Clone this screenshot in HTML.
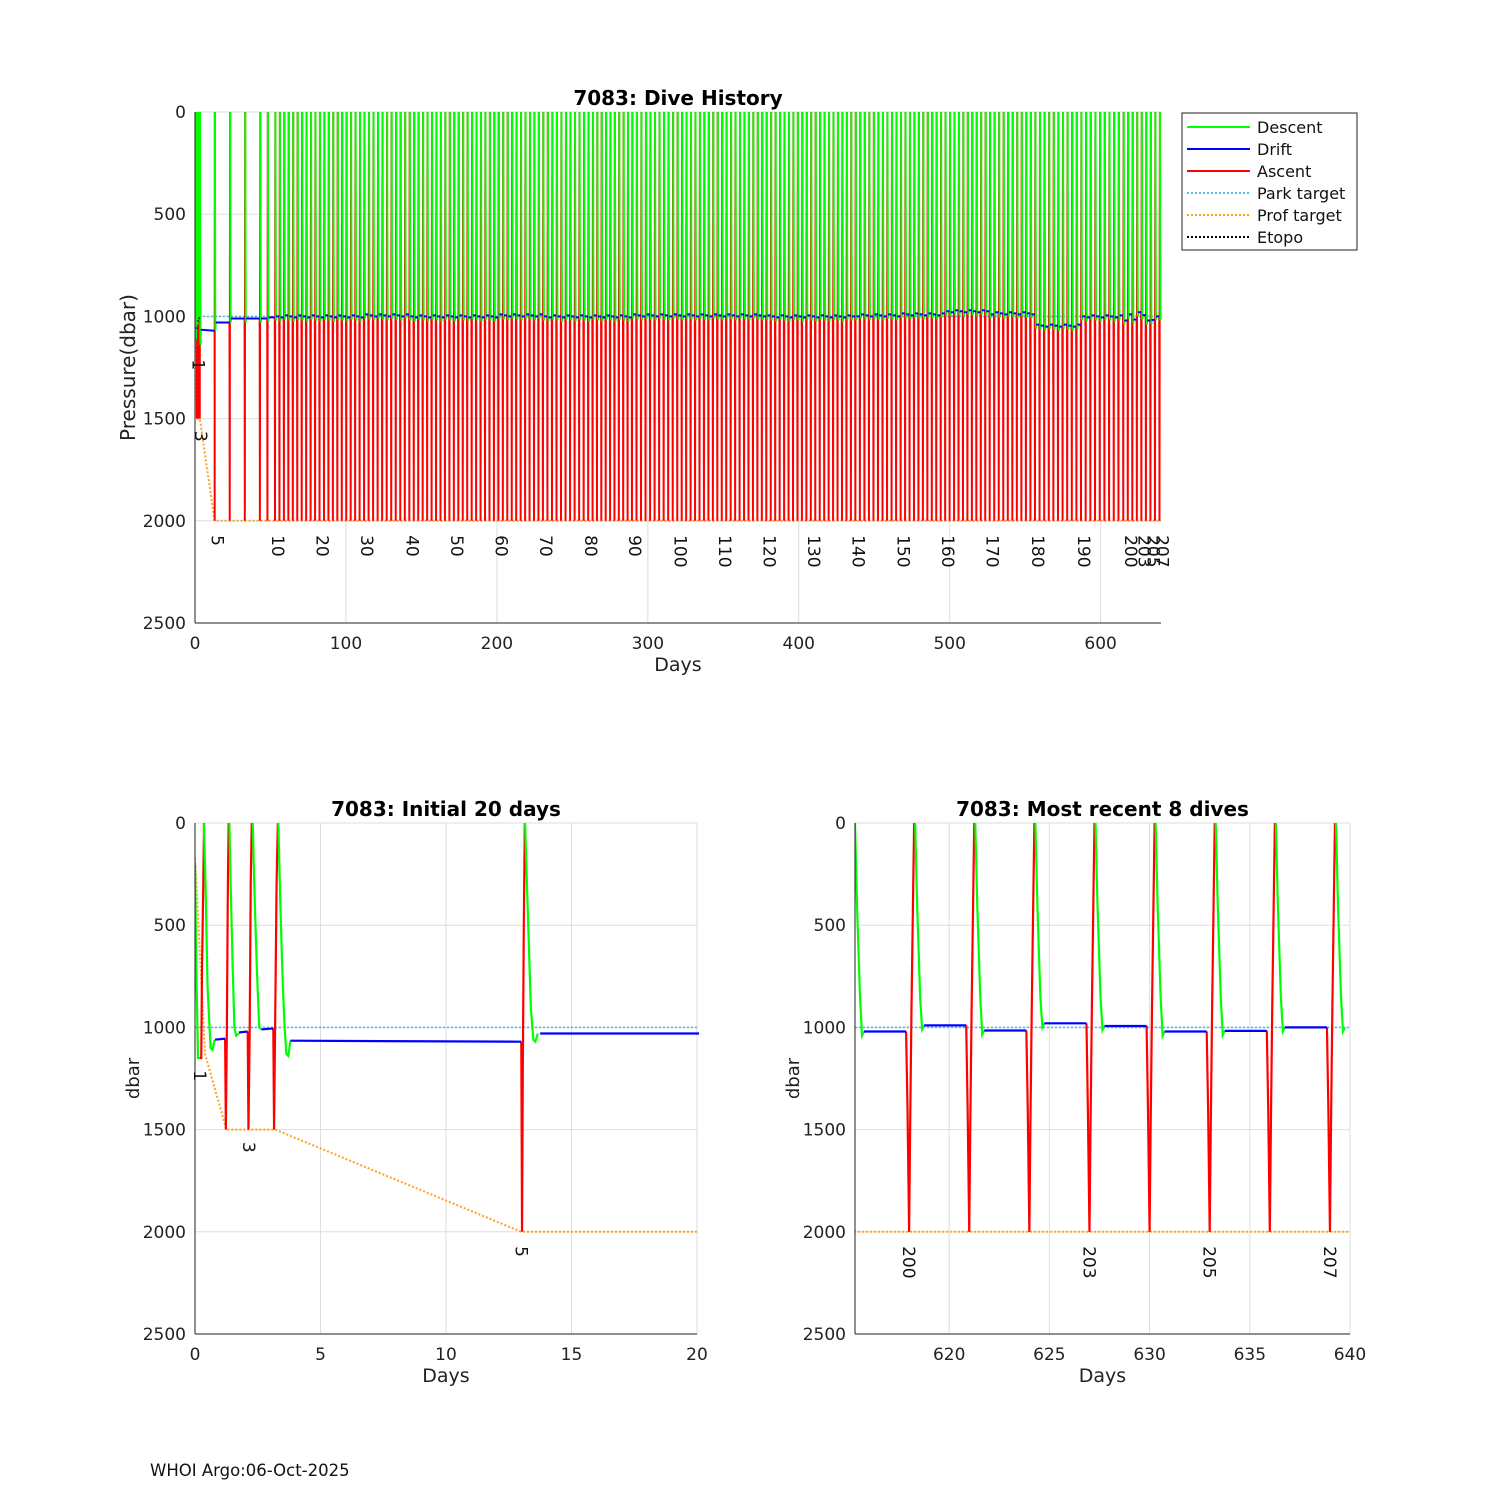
<!DOCTYPE html>
<html><head><meta charset="utf-8"><style>
html,body{margin:0;padding:0;background:#fff}
svg{display:block;font-family:"DejaVu Sans","Liberation Sans",sans-serif}
</style></head><body>
<svg id="svg" width="1500" height="1500" viewBox="0 0 1500 1500" xmlns="http://www.w3.org/2000/svg">
<rect width="1500" height="1500" fill="#fff"/>
<text x="150" y="1476" font-size="16.5" fill="#111">WHOI Argo:06-Oct-2025</text>
<g>
<rect x="1182" y="113" width="175" height="137" fill="#fff" stroke="#222" stroke-width="1"/>
<line x1="1187" y1="127" x2="1250" y2="127" stroke="#00ff00" stroke-width="2"/><text x="1257" y="133" font-size="16" fill="#111">Descent</text>
<line x1="1187" y1="149" x2="1250" y2="149" stroke="#0000ff" stroke-width="2"/><text x="1257" y="155" font-size="16" fill="#111">Drift</text>
<line x1="1187" y1="171" x2="1250" y2="171" stroke="#ff0000" stroke-width="2"/><text x="1257" y="177" font-size="16" fill="#111">Ascent</text>
<line x1="1187" y1="193" x2="1250" y2="193" stroke="#4dbeee" stroke-width="2" stroke-dasharray="2,2"/><text x="1257" y="199" font-size="16" fill="#111">Park target</text>
<line x1="1187" y1="215" x2="1250" y2="215" stroke="#ffa020" stroke-width="2" stroke-dasharray="2,2"/><text x="1257" y="221" font-size="16" fill="#111">Prof target</text>
<line x1="1187" y1="237" x2="1250" y2="237" stroke="#000" stroke-width="2" stroke-dasharray="2,2"/><text x="1257" y="243" font-size="16" fill="#111">Etopo</text>
</g>
</svg>
<script>
// ---- data ----
const decadeDives=[10,20,30,40,50,60,70,80,90,100,110,120,130,140,150,160,170,180,190,200];
const decadeDays=[53,82.5,112,142,171.5,201,230.5,260.5,289.5,319.5,349,378.5,408,437.5,467.5,497,526.5,556.5,587,618];
const earlyDives=[5,6,7,8,9];
const earlyDays=[13,23,33,43,48];
const recentDives=[199,200,201,202,203,204,205,206,207];
const recentDays=[615,618,621,624,627,630,633,636,639];
const earlyDrift=[1030,1010,1010,1010,1005];
const decadeDrift=[1000,1000,995,1000,1000,995,1000,1000,995,995,995,1000,1000,995,990,975,985,1045,1000,995];
const recentDrift=[1020,990,1015,980,993,1020,1017,1000,1000];
const labelDives=[1,3,5,10,20,30,40,50,60,70,80,90,100,110,120,130,140,150,160,170,180,190,200,203,205,207];
// first test dives (explicit traces)
const initDescT=[0,0.05,0.12,0.2,NaN,0.35,0.42,0.5,0.62,0.7,0.78,NaN,1.37,1.42,1.5,1.57,1.64,1.75,NaN,2.3,2.36,2.46,2.56,2.65,NaN,3.32,3.4,3.5,3.57,3.64,3.72,3.8,NaN,13.15,13.25,13.38,13.48,13.56,13.66];
const initDescP=[200,700,1150,1150,NaN,0,300,800,1100,1110,1060,NaN,0,300,700,1000,1040,1030,NaN,0,300,700,1000,1010,NaN,0,400,800,1000,1130,1140,1065,NaN,0,400,900,1060,1070,1030];
const initDriftT=[0.8,1.2,NaN,1.75,2.1,NaN,2.65,3.12,NaN,3.8,13.0];
const initDriftP=[1060,1055,NaN,1025,1020,NaN,1010,1005,NaN,1065,1070];
const initAscT=[0.18,0.25,0.28,0.33,0.36,NaN,1.2,1.23,1.27,1.31,1.34,NaN,2.1,2.13,2.18,2.22,2.26,NaN,3.12,3.15,3.2,3.25,3.3,NaN,13.0,13.03,13.06,13.1,13.14];
const initAscP=[1150,1150,700,300,0,NaN,1055,1500,1000,300,0,NaN,1020,1500,1000,300,0,NaN,1005,1500,900,300,0,NaN,1070,2000,1200,500,0];
const profTargetT=[0,0.4,1.25,3.2,13,640];
const profTargetP=[170,1130,1500,1500,2000,2000];
const parkTarget=1000;

// ---- derived dive list ----
function diveDay(n){
  let i=recentDives.indexOf(n); if(i>=0) return recentDays[i];
  i=earlyDives.indexOf(n); if(i>=0) return earlyDays[i];
  for(let k=0;k<decadeDives.length-1;k++){ if(n>=decadeDives[k]&&n<decadeDives[k+1]) return decadeDays[k]+(n-decadeDives[k])*(decadeDays[k+1]-decadeDays[k])/(decadeDives[k+1]-decadeDives[k]); }
  return decadeDays[decadeDays.length-1];
}
function diveDrift(n){
  let i=recentDives.indexOf(n); if(i>=0) return recentDrift[i];
  i=earlyDives.indexOf(n); if(i>=0) return earlyDrift[i];
  let k=Math.min(Math.floor((n-10)/10),decadeDrift.length-1); return decadeDrift[k]+((n%3)-1)*5;
}
const descT=initDescT.slice(),descP=initDescP.slice(),driftT=initDriftT.slice(),driftP=initDriftP.slice(),ascT=initAscT.slice(),ascP=initAscP.slice();
for(let n=6;n<=207;n++){
  const d=diveDay(n), prev=diveDay(n-1), dp=diveDrift(n-1), dn=diveDrift(n);
  driftT.push(NaN,prev+0.75,d-0.15); driftP.push(NaN,dp,dp);
  ascT.push(NaN,d-0.15,d-0.08,d,d+0.05,d+0.12,d+0.25); ascP.push(NaN,dp,1400,2000,1500,900,0);
  descT.push(NaN,d+0.3,d+0.4,d+0.55,d+0.65,d+0.75); descP.push(NaN,0,400,850,dn+20,dn);
}
function maxP(n){ if(n===1) return 1150; if(n===3) return 1500; return 2000; }
function labelDay(n){ if(n===1) return 0.2; if(n===3) return 2.15; return diveDay(n); }

// ---- drawing ----
const svg=document.getElementById('svg');
const NS='http://www.w3.org/2000/svg';
function el(tag,attrs,parent){const e=document.createElementNS(NS,tag);for(const k in attrs)e.setAttribute(k,attrs[k]);(parent||svg).appendChild(e);return e;}
function pathD(ts,ps,sx,sy){let d='',pen=false;for(let i=0;i<ts.length;i++){if(isNaN(ts[i])||isNaN(ps[i])){pen=false;continue;}d+=(pen?'L':'M')+sx(ts[i]).toFixed(2)+' '+sy(ps[i]).toFixed(2);pen=true;}return d;}

function makeAxes(c){
  const sx=v=>c.x0+(v-c.xmin)/(c.xmax-c.xmin)*(c.x1-c.x0);
  const sy=v=>c.y0+v/2500*(c.y1-c.y0);
  const g=el('g',{});
  
  
  const cid='clip-'+c.name;
  const cp=el('clipPath',{id:cid},g); el('rect',{x:c.x0,y:c.y0-2,width:c.x1-c.x0+2,height:c.y1-c.y0+2},cp);
  c.xticks.forEach(t=>{const x=sx(t);
    const gl=el('line',{x1:x,y1:c.y0,x2:x,y2:c.y1,stroke:'#dedede','stroke-width':1},g);
    
    
    const tl=el('text',{x:x,y:c.y1+26,'font-size':17,'text-anchor':'middle',fill:'#222'},g); tl.textContent=t;
    
    
  });
  [0,500,1000,1500,2000,2500].forEach(t=>{const y=sy(t);
    const gl=el('line',{x1:c.x0,y1:y,x2:c.x1,y2:y,stroke:'#dedede','stroke-width':1},g);
    
    
    const tl=el('text',{x:c.x0-9,y:y+6,'font-size':17,'text-anchor':'end',fill:'#222'},g); tl.textContent=t;
    
    
  });
  const data=el('g',{'clip-path':'url(#'+cid+')'},g);
  el('line',{x1:sx(c.xmin),y1:sy(parkTarget),x2:sx(c.xmax),y2:sy(parkTarget),stroke:'#4dbeee','stroke-width':1.6,'stroke-dasharray':'2,2'},data);
  const pt=el('path',{d:pathD(profTargetT,profTargetP,sx,sy),fill:'none',stroke:'#ffa020','stroke-width':2,'stroke-dasharray':'2,2'},data);
  
  
  const a=el('path',{d:pathD(ascT,ascP,sx,sy),fill:'none',stroke:'#ff0000','stroke-width':c.lw},data);
  
  
  const dsc=el('path',{d:pathD(descT,descP,sx,sy),fill:'none',stroke:'#00ff00','stroke-width':c.lw},data);
  
  
  const dr=el('path',{d:pathD(driftT,driftP,sx,sy),fill:'none',stroke:'#0000ff','stroke-width':c.lw},data);
  
  
  el('line',{x1:c.x0,y1:c.y0,x2:c.x0,y2:c.y1,stroke:'#222','stroke-width':1},g);
  el('line',{x1:c.x0,y1:c.y1,x2:c.x1,y2:c.y1,stroke:'#222','stroke-width':1},g);
  labelDives.forEach(n=>{const d=labelDay(n); if(d<c.xmin||d>c.xmax) return; if(c.only&&c.only.indexOf(n)<0) return;
    const x=sx(d)+c.lblOff, y=sy(maxP(n)+(n<5?60:70));
    const t=el('text',{x:x,y:y,'font-size':17,fill:'#111',transform:'rotate(90 '+x+' '+y+')'},g); t.textContent=n;
    
    
  });
  const tt=el('text',{x:(c.x0+c.x1)/2,y:c.y0-7,'font-size':20,'font-weight':'bold','text-anchor':'middle',fill:'#000'},g); tt.textContent=c.title;
  
  
  const xl=el('text',{x:(c.x0+c.x1)/2,y:c.y1+48,'font-size':19,'text-anchor':'middle',fill:'#222'},g); xl.textContent='Days';
  
  
  const yx=c.ylx, yy=(c.y0+c.y1)/2;
  const yl=el('text',{x:yx,y:yy,'font-size':c.ylsize,'text-anchor':'middle',fill:'#222',transform:'rotate(-90 '+yx+' '+yy+')'},g); yl.textContent=c.ylabel;
  
  
}
makeAxes({name:'dive-history-chart',x0:195,x1:1161,y0:112,y1:623,xmin:0,xmax:640,xticks:[0,100,200,300,400,500,600],lw:2,lblOff:-3,title:'7083: Dive History',ylabel:'Pressure(dbar)',ylx:135,ylsize:20,only:[1,3,5,10,20,30,40,50,60,70,80,90,100,110,120,130,140,150,160,170,180,190,200,203,205,207]});
makeAxes({name:'initial-20-days-chart',x0:195,x1:697,y0:823,y1:1334,xmin:0,xmax:20,xticks:[0,5,10,15,20],lw:2.2,lblOff:-6,title:'7083: Initial 20 days',ylabel:'dbar',ylx:139,ylsize:18,only:[1,3,5]});
makeAxes({name:'recent-8-dives-chart',x0:855,x1:1350,y0:823,y1:1334,xmin:615.3,xmax:640,xticks:[620,625,630,635,640],lw:2.2,lblOff:-6,title:'7083: Most recent 8 dives',ylabel:'dbar',ylx:799,ylsize:18,only:[200,203,205,207]});
</script>
</body></html>
